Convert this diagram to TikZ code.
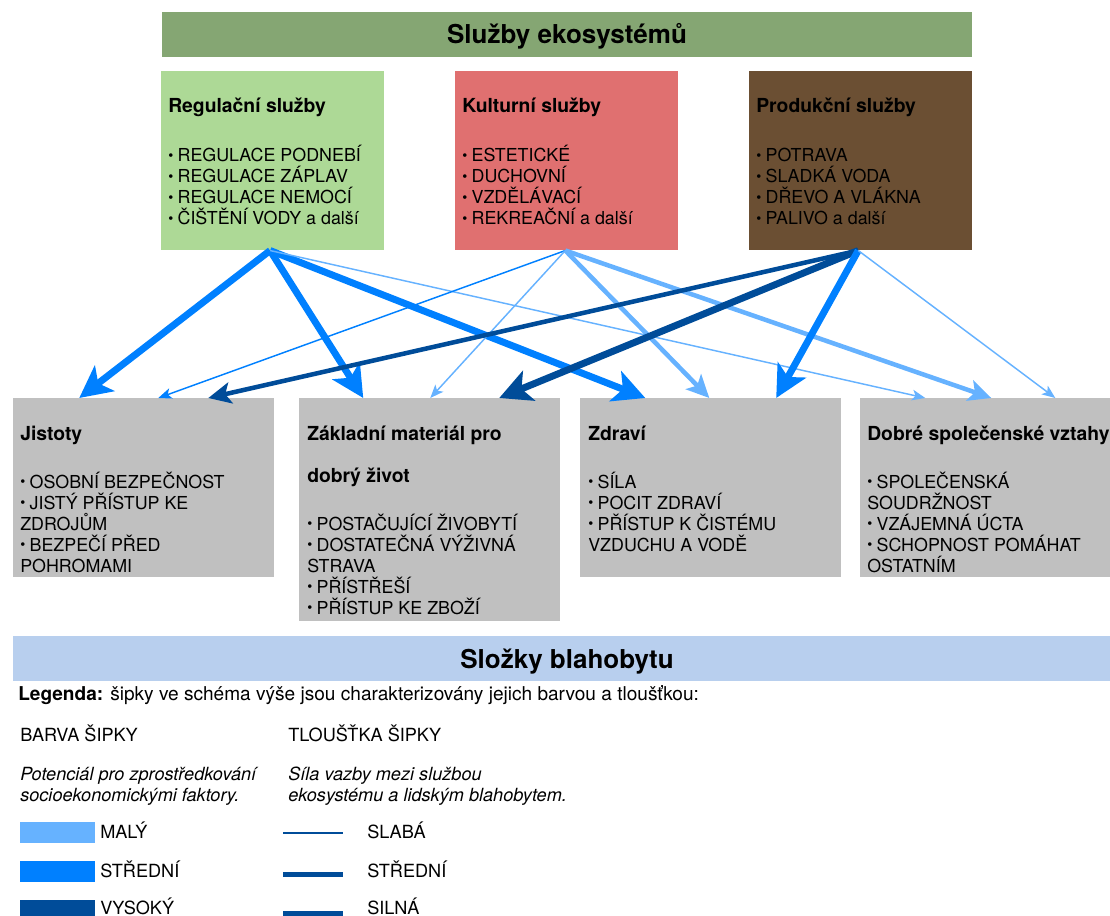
\documentclass[tikz,border=0pt]{standalone}
\usepackage{fontspec}
\setmainfont{TeX Gyre Heros}
\usetikzlibrary{arrows.meta}

\definecolor{hlavni}{HTML}{85A673}
\definecolor{regul}{HTML}{ADD996}
\definecolor{kult}{HTML}{E07070}
\definecolor{prod}{HTML}{6B4F33}
\definecolor{slozka}{HTML}{C0C0C0}
\definecolor{blaho}{HTML}{B8CFEE}
\definecolor{maly}{HTML}{66B2FF}
\definecolor{stred}{HTML}{0080FF}
\definecolor{vysoky}{HTML}{004C99}

\newcommand{\bod}{\makebox[7pt][l]{\raisebox{1.1pt}{\scalebox{0.8}{•}}}}

\tikzset{
	pole/.style={inner sep=0pt, anchor=north west},
	nadpis/.style={font=\fontsize{19.5}{22}\selectfont\bfseries, inner sep=0pt, anchor=base},
	titul/.style={font=\fontsize{14.5}{15.75}\selectfont\bfseries, inner sep=0pt, anchor=base west, align=left},
	seznam/.style={font=\fontsize{13.4}{15.75}\selectfont, inner sep=0pt, anchor=base west, align=left},
	legtext/.style={font=\fontsize{13.6}{15.75}\selectfont, inner sep=0pt, anchor=base west, align=left},
	slaba/.style={line width=1.1pt, -{Stealth[length=10pt, width=8pt, inset=2.5pt]}},
	stredni/.style={line width=3.4pt, -{Stealth[length=17pt, width=16pt, inset=4pt]}},
	silna/.style={line width=5.2pt, -{Stealth[length=24pt, width=24pt, inset=6pt]}},
}

\begin{document}
\begin{tikzpicture}[x=0.75pt, y=-0.75pt]
		\useasboundingbox (0,0) rectangle (1110,916);

		\node[pole, fill=hlavni, minimum width=607.5pt, minimum height=33.75pt] (sluzby) at (162,12) {};
		\node[nadpis] (sluzbyt) at (567,44) {Služby ekosystémů};

		% sluzby ekosystemu (base = posledni radek)
		\node[pole, fill=regul, minimum width=167.25pt, minimum height=134.25pt] (reg) at (161,71) {};
		\node[pole, fill=kult, minimum width=167.25pt, minimum height=134.25pt] (kul) at (455,71) {};
		\node[pole, fill=prod, minimum width=167.25pt, minimum height=134.25pt] (pro) at (749,71) {};

		\node[titul] (regt) at (168,113) {Regulační služby};
		\node[seznam] (regl) at (168,225) {\bod REGULACE PODNEBÍ\\ \bod REGULACE ZÁPLAV\\
			\bod REGULACE NEMOCÍ\\ \bod ČIŠTĚNÍ VODY a další};
		\node[titul] (kult) at (462,113) {Kulturní služby};
		\node[seznam] (kull) at (462,225) {\bod ESTETICKÉ\\ \bod DUCHOVNÍ\\
			\bod VZDĚLÁVACÍ\\ \bod REKREAČNÍ a další};
		\node[titul] (prot) at (756,113) {Produkční služby};
		\node[seznam] (prol) at (756,225) {\bod POTRAVA\\ \bod SLADKÁ VODA\\
			\bod DŘEVO A VLÁKNA\\ \bod PALIVO a další};

		% slozky blahobytu
		\node[pole, fill=slozka, minimum width=195.75pt, minimum height=134.25pt] (jis) at (13,398) {};
		\node[pole, fill=slozka, minimum width=195.75pt, minimum height=167.25pt] (zak) at (299,398) {};
		\node[pole, fill=slozka, minimum width=195.75pt, minimum height=134.25pt] (zdr) at (580,398) {};
		\node[pole, fill=slozka, minimum width=195.75pt, minimum height=134.25pt] (vzt) at (860,398) {};

		\node[titul] (jist) at (20,440) {Jistoty};
		\node[seznam] (jisl) at (20,572) {\bod OSOBNÍ BEZPEČNOST\\ \bod JISTÝ PŘÍSTUP KE\\
			ZDROJŮM\\ \bod BEZPEČÍ PŘED\\ POHROMAMI};
		\node[titul] (zakt) at (307,482) {Základní materiál pro\\[15.75pt]dobrý život};
		\node[seznam] (zakl) at (307,614) {\bod POSTAČUJÍCÍ ŽIVOBYTÍ\\ \bod DOSTATEČNÁ VÝŽIVNÁ\\
			STRAVA\\ \bod PŘÍSTŘEŠÍ\\ \bod PŘÍSTUP KE ZBOŽÍ};
		\node[titul] (zdrt) at (588,440) {Zdraví};
		\node[seznam] (zdrl) at (588,551) {\bod SÍLA\\ \bod POCIT ZDRAVÍ\\
			\bod PŘÍSTUP K ČISTÉMU\\ VZDUCHU A VODĚ};
		\node[titul] (vztt) at (867,440) {Dobré společenské vztahy};
		\node[seznam] (vztl) at (867,572) {\bod SPOLEČENSKÁ\\ SOUDRŽNOST\\
			\bod VZÁJEMNÁ ÚCTA\\ \bod SCHOPNOST POMÁHAT\\ OSTATNÍM};

		\node[pole, fill=blaho, minimum width=830.25pt, minimum height=33.75pt] (blaho) at (13,636) {};
		\node[nadpis] (blahot) at (567,668) {Složky blahobytu};

		% sipky
		\draw[silna, stred] ([xshift=-2pt]reg.south) -- ([xshift=-48.4pt]jis.north);
		\draw[silna, stred] ([xshift=-2pt]reg.south) -- ([xshift=-49.9pt]zak.north);
		\draw[silna, stred] ([xshift=-2pt]reg.south) -- ([xshift=-49.1pt]zdr.north);
		\draw[slaba, maly] ([xshift=-2pt]reg.south) -- ([xshift=-49.1pt]vzt.north);

		\draw[slaba, stred] ([xshift=-1.1pt]kul.south) -- ([xshift=10.9pt]jis.north);
		\draw[slaba, maly] ([xshift=-1.1pt]kul.south) -- ([xshift=0.4pt]zak.north);
		\draw[stredni, maly] ([xshift=-1.1pt]kul.south) -- ([xshift=-1.1pt]zdr.north);
		\draw[stredni, maly] ([xshift=-1.1pt]kul.south) -- ([xshift=0.4pt]vzt.north);

		\draw[stredni, vysoky] ([xshift=-1.9pt]pro.south) -- ([xshift=48.4pt]jis.north);
		\draw[silna, vysoky] ([xshift=-1.9pt]pro.south) -- ([xshift=52.1pt]zak.north);
		\draw[silna, stred] ([xshift=-1.9pt]pro.south) -- ([xshift=49.1pt]zdr.north);
		\draw[slaba, maly] ([xshift=-1.9pt]pro.south) -- ([xshift=48.4pt]vzt.north);

		% legenda
		\node[legtext, font=\fontsize{14.3}{15.75}\selectfont] (leg) at (18,700) {\textbf{Legenda:} šipky ve schéma výše jsou charakterizovány jejich barvou a tloušťkou:};
		\node[legtext] (barva) at (20,741) {BARVA ŠIPKY};
		\node[legtext] (tloustka) at (288,741) {TLOUŠŤKA ŠIPKY};
		\node[legtext, font=\fontsize{13.6}{15.75}\selectfont\itshape] (barvap) at (20,801)
			{Potenciál pro zprostředkování\\socioekonomickými faktory.};
		\node[legtext, font=\fontsize{13.6}{15.75}\selectfont\itshape] (tloustkap) at (288,801)
			{Síla vazby mezi službou\\ekosystému a lidským blahobytem.};

		\fill[maly] (20,822) rectangle (95,843);
		\fill[stred] (20,861) rectangle (95,882);
		\fill[vysoky] (20,900) rectangle (95,921);
		\node[legtext] (maly) at (100,838) {MALÝ};
		\node[legtext] (stredb) at (100,877) {STŘEDNÍ};
		\node[legtext] (vysok) at (100,914.5) {VYSOKÝ};

		\draw[vysoky, line width=1.1pt] (283,833) -- (343,833);
		\draw[vysoky, line width=3.4pt] (283,874.5) -- (343,874.5);
		\draw[vysoky, line width=4pt] (283,913.5) -- (343,913.5);
		\node[legtext] (slab) at (367,838) {SLABÁ};
		\node[legtext] (stredt) at (367,877) {STŘEDNÍ};
		\node[legtext] (siln) at (367,914.5) {SILNÁ};
	\end{tikzpicture}
\end{document}
